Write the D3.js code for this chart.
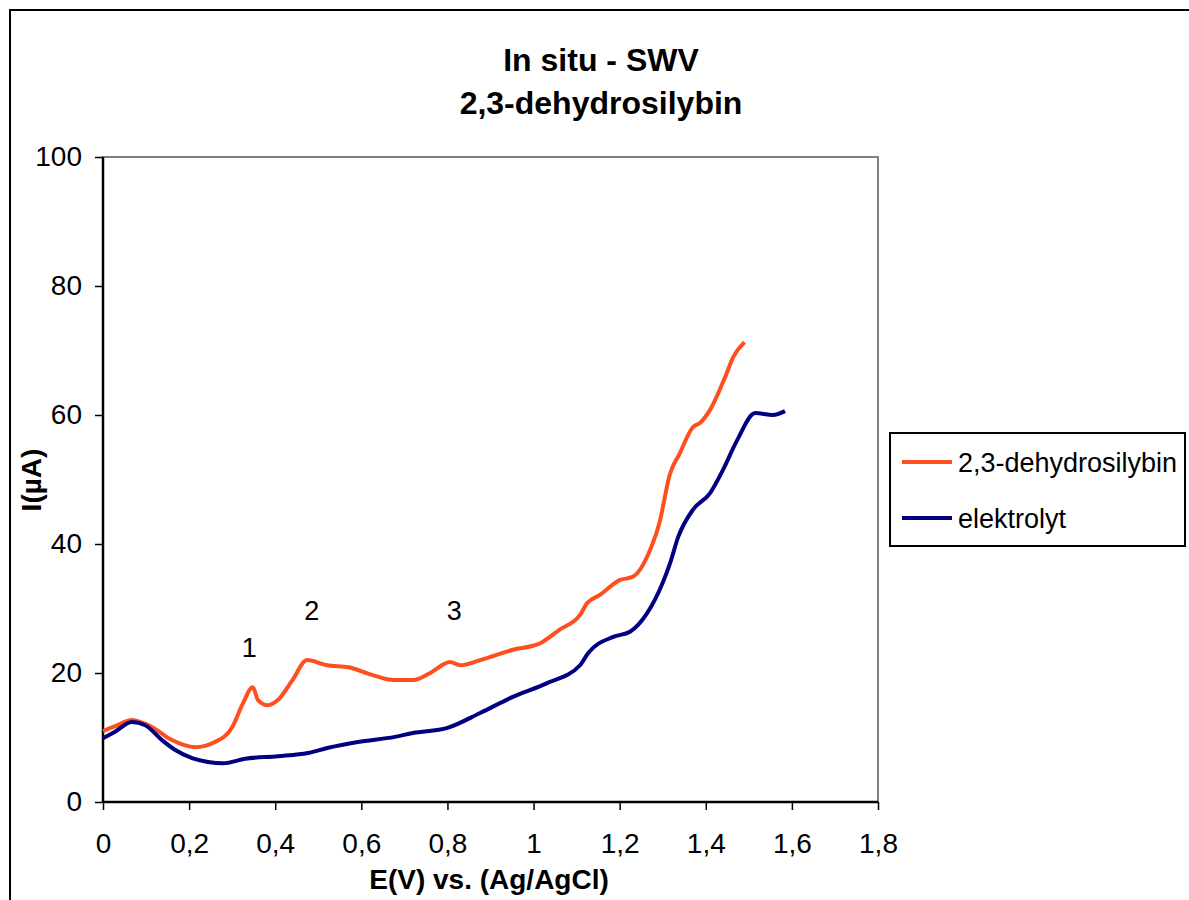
<!DOCTYPE html>
<html>
<head>
<meta charset="utf-8">
<script src="https://cdn.jsdelivr.net/npm/d3@7"></script>
<style>
  body { margin: 0; background: #fff; }
  text { font-family: "Liberation Sans", Arial, sans-serif; }
</style>
</head>
<body>
<div id="chart"></div>
<script>
// E (V) values and currents (µA)
const silybinE = [0, 0.03, 0.067, 0.114, 0.16, 0.214, 0.26, 0.30, 0.325, 0.348, 0.36, 0.383, 0.406, 0.44, 0.474,
  0.52, 0.57, 0.625, 0.675, 0.72, 0.76, 0.806, 0.83, 0.876, 0.952, 1.015, 1.06, 1.108, 1.124, 1.154, 1.2,
  1.23, 1.27, 1.294, 1.305, 1.313, 1.34, 1.37, 1.387, 1.41, 1.445, 1.464, 1.49];
const silybinI = [11.0, 11.8, 12.7, 11.6, 9.6, 8.5, 9.3, 11.6, 15.3, 17.8, 15.8, 15.0, 15.8, 18.9, 22.0,
  21.2, 20.9, 19.7, 18.9, 18.9, 20.0, 21.7, 21.2, 22.0, 23.6, 24.6, 26.7, 29.0, 30.8, 32.1, 34.4,
  34.9, 39.0, 43.7, 47.3, 49.9, 54.1, 58.1, 58.8, 60.8, 65.9, 69.0, 71.3];

const elektrolytE = [0, 0.028, 0.067, 0.098, 0.137, 0.167, 0.207, 0.244, 0.279, 0.33, 0.406, 0.476, 0.523,
  0.592, 0.678, 0.72, 0.8, 0.876, 0.952, 1.03, 1.108, 1.127, 1.185, 1.224, 1.263, 1.30, 1.317, 1.336, 1.37,
  1.41, 1.44, 1.473, 1.515, 1.556, 1.584];
const elektrolytI = [9.9, 10.9, 12.4, 11.9, 9.6, 8.1, 6.8, 6.2, 6.0, 6.7, 7.1, 7.6, 8.4,
  9.3, 10.1, 10.7, 11.5, 13.8, 16.3, 18.4, 21.2, 23.1, 25.6, 26.4, 29.2, 34.0, 37.0, 41.1, 45.3,
  47.9, 51.5, 56.1, 60.3, 60.0, 60.6];

const xTicks = [0, 0.2, 0.4, 0.6, 0.8, 1, 1.2, 1.4, 1.6, 1.8];
const yTicks = [0, 20, 40, 60, 80, 100];

const peakLabels = ['1', '2', '3'];
const peakE = [0.34, 0.485, 0.816];
const peakI = [23.6, 29.3, 29.3];

const seriesNames = ['2,3-dehydrosilybin', 'elektrolyt'];
const seriesColors = ['#ff4f1f', '#000080'];

const width = 1189;
const height = 900;
const plot = { left: 103, top: 157, right: 878, bottom: 802 };

const svg = d3.select('#chart').append('svg')
  .attr('width', width)
  .attr('height', height);

svg.append('rect')
  .attr('width', width)
  .attr('height', height)
  .attr('fill', '#fff');

// outer chart frame (runs off the right and bottom edges)
svg.append('rect')
  .attr('x', 10)
  .attr('y', 10)
  .attr('width', 1200)
  .attr('height', 910)
  .attr('fill', 'none')
  .attr('stroke', '#000')
  .attr('stroke-width', 2);

const x = d3.scaleLinear().domain([0, 1.8]).range([plot.left, plot.right]);
const y = d3.scaleLinear().domain([0, 100]).range([plot.bottom, plot.top]);

// gray plot border
svg.append('rect')
  .attr('x', plot.left)
  .attr('y', plot.top)
  .attr('width', plot.right - plot.left)
  .attr('height', plot.bottom - plot.top)
  .attr('fill', 'none')
  .attr('stroke', '#808080')
  .attr('stroke-width', 2);

const fmt = d => String(d).replace('.', ',');

const xAxis = svg.append('g')
  .attr('transform', `translate(0,${plot.bottom})`)
  .call(d3.axisBottom(x).tickValues(xTicks).tickFormat(fmt).tickSize(8).tickPadding(23));

const yAxis = svg.append('g')
  .attr('transform', `translate(${plot.left},0)`)
  .call(d3.axisLeft(y).tickValues(yTicks).tickSize(8).tickPadding(13));

[xAxis, yAxis].forEach(a => {
  a.select('.domain').attr('stroke', '#000').attr('stroke-width', 2.5);
  a.selectAll('.tick line').attr('stroke', '#000').attr('stroke-width', 1.5);
  a.selectAll('.tick text')
    .attr('fill', '#000')
    .style('font-family', '"Liberation Sans", Arial, sans-serif')
    .style('font-size', '28px');
});
xAxis.select('.domain').attr('d', `M${plot.left},0H${plot.right}`);
yAxis.select('.domain').attr('d', `M0,${plot.bottom}V${plot.top}`);

const line = d3.line()
  .x(d => x(d[0]))
  .y(d => y(d[1]))
  .curve(d3.curveMonotoneX);

const series = [
  d3.zip(silybinE, silybinI),
  d3.zip(elektrolytE, elektrolytI),
];

svg.selectAll('.series')
  .data(series)
  .enter()
  .append('path')
    .attr('class', 'series')
    .attr('d', line)
    .attr('fill', 'none')
    .attr('stroke', (d, i) => seriesColors[i])
    .attr('stroke-width', 4);

svg.selectAll('.peak')
  .data(peakLabels)
  .enter()
  .append('text')
    .attr('class', 'peak')
    .attr('x', (d, i) => x(peakE[i]))
    .attr('y', (d, i) => y(peakI[i]))
    .attr('text-anchor', 'middle')
    .attr('dominant-baseline', 'middle')
    .style('font-size', '27px')
    .text(d => d);

// titles
const titleLines = ['In situ - SWV', '2,3-dehydrosilybin'];
svg.selectAll('.title')
  .data(titleLines)
  .enter()
  .append('text')
    .attr('class', 'title')
    .attr('x', 601)
    .attr('y', (d, i) => 71 + i * 43)
    .attr('text-anchor', 'middle')
    .style('font-size', '32px')
    .style('font-weight', 'bold')
    .text(d => d);

svg.append('text')
  .attr('x', 489)
  .attr('y', 889)
  .attr('text-anchor', 'middle')
  .style('font-size', '28px')
  .style('font-weight', 'bold')
  .text('E(V) vs. (Ag/AgCl)');

svg.append('text')
  .attr('transform', 'translate(41,480) rotate(-90)')
  .attr('text-anchor', 'middle')
  .style('font-size', '28px')
  .style('font-weight', 'bold')
  .text('I(µA)');

// legend
const legend = svg.append('g').attr('transform', 'translate(890,433)');
legend.append('rect')
  .attr('width', 295)
  .attr('height', 113)
  .attr('fill', '#fff')
  .attr('stroke', '#000')
  .attr('stroke-width', 2);

const entry = legend.selectAll('.entry')
  .data(seriesNames)
  .enter()
  .append('g')
    .attr('class', 'entry')
    .attr('transform', (d, i) => `translate(0,${29 + i * 56})`);
entry.append('line')
  .attr('x1', 12)
  .attr('x2', 62)
  .attr('stroke', (d, i) => seriesColors[i])
  .attr('stroke-width', 4);
entry.append('text')
  .attr('x', 68)
  .attr('y', 10)
  .style('font-size', '27px')
  .text(d => d);
</script>
</body>
</html>
